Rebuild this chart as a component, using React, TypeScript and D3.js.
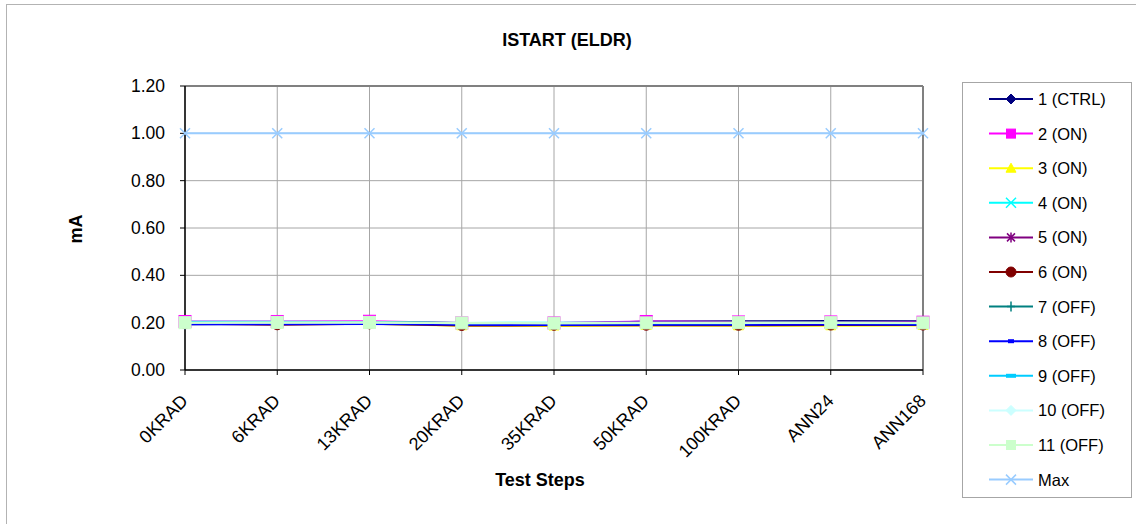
import React from "react";
import * as d3 from "d3";

const categories = ["0KRAD", "6KRAD", "13KRAD", "20KRAD", "35KRAD", "50KRAD", "100KRAD", "ANN24", "ANN168"];
const yTicks = [0, 0.2, 0.4, 0.6, 0.8, 1.0, 1.2];

const seriesNames = ["1 (CTRL)", "2 (ON)", "3 (ON)", "4 (ON)", "5 (ON)", "6 (ON)", "7 (OFF)", "8 (OFF)", "9 (OFF)", "10 (OFF)", "11 (OFF)", "Max"];
const seriesColors = ["#000080", "#FF00FF", "#FFFF00", "#00FFFF", "#800080", "#800000", "#008080", "#0000FF", "#00CCFF", "#CCFFFF", "#CCFFCC", "#99CCFF"];
const seriesMarkers = ["diamond", "square", "triangle", "x", "star", "circle", "plus", "dash", "longdash", "diamond", "square", "x"];

const s1 = [0.193, 0.195, 0.196, 0.192, 0.193, 0.205, 0.206, 0.207, 0.206];
const s2 = [0.205, 0.205, 0.206, 0.199, 0.199, 0.205, 0.203, 0.203, 0.202];
const s3 = [0.196, 0.194, 0.195, 0.187, 0.186, 0.188, 0.187, 0.187, 0.188];
const s4 = [0.204, 0.204, 0.203, 0.199, 0.2, 0.2, 0.199, 0.2, 0.199];
const s5 = [0.199, 0.201, 0.202, 0.197, 0.197, 0.198, 0.198, 0.199, 0.198];
const s6 = [0.196, 0.191, 0.195, 0.188, 0.189, 0.189, 0.189, 0.19, 0.19];
const s7 = [0.202, 0.203, 0.203, 0.199, 0.199, 0.2, 0.201, 0.201, 0.2];
const s8 = [0.193, 0.193, 0.194, 0.191, 0.19, 0.191, 0.191, 0.192, 0.191];
const s9 = [0.203, 0.203, 0.202, 0.198, 0.199, 0.198, 0.198, 0.199, 0.198];
const s10 = [0.2, 0.2, 0.201, 0.198, 0.198, 0.199, 0.199, 0.199, 0.199];
const s11 = [0.2, 0.201, 0.201, 0.199, 0.198, 0.199, 0.2, 0.2, 0.199];
const sMax = [1.0, 1.0, 1.0, 1.0, 1.0, 1.0, 1.0, 1.0, 1.0];
const seriesValues = [s1, s2, s3, s4, s5, s6, s7, s8, s9, s10, s11, sMax];

const W = 1136, H = 524;
const plot = { left: 185, right: 923, top: 86, bottom: 370 };

function Marker({ type, x, y, color, sq = 12 }: { type: string; x: number; y: number; color: string; sq?: number }) {
  const t = `translate(${x},${y})`;
  switch (type) {
    case "diamond":
      return <path transform={t} d="M0,-5L5,0L0,5L-5,0Z" fill={color} stroke={color} strokeWidth={1} />;
    case "square":
      return <rect x={x - sq / 2} y={y - sq / 2} width={sq} height={sq} fill={color} stroke={color} strokeWidth={1} />;
    case "triangle":
      return <path transform={t} d="M0,-5L5,4L-5,4Z" fill={color} stroke={color} strokeWidth={1} />;
    case "circle":
      return <circle cx={x} cy={y} r={5} fill={color} stroke={color} />;
    case "x":
      return <path transform={t} d="M-5,-5L5,5M-5,5L5,-5" stroke={color} strokeWidth={1.5} fill="none" />;
    case "star":
      return <path transform={t} d="M-4,-4L4,4M-4,4L4,-4M0,-5L0,5" stroke={color} strokeWidth={1.5} fill="none" />;
    case "plus":
      return <path transform={t} d="M0,-5L0,5M-4,0L4,0" stroke={color} strokeWidth={1.5} fill="none" />;
    case "dash":
      return <rect x={x - 3} y={y - 2} width={6} height={4} fill={color} />;
    case "longdash":
      return <rect x={x - 5} y={y - 2} width={10} height={4} fill={color} />;
    default:
      return null;
  }
}

export default function App() {
  const x = d3.scalePoint<string>().domain(categories).range([plot.left, plot.right]);
  const y = d3.scaleLinear().domain([0, 1.2]).range([plot.bottom, plot.top]);
  const line = d3
    .line<number>()
    .x((_, i) => x(categories[i]) as number)
    .y((d) => y(d));

  const font = "Arial, 'Liberation Sans', Helvetica, sans-serif";
  const legendX = 962, legendY = 82, legendW = 169, legendH = 415;
  const rowY = (i: number) => 99 + i * 34.6;

  return (
    <svg width={W} height={H} style={{ position: "absolute", left: 0, top: 0 }} fontFamily={font}>
      <rect x={0} y={0} width={W} height={H} fill="#fff" />
      <rect x={6.5} y={4.5} width={1140} height={540} fill="#fff" stroke="#b3b3b3" strokeWidth={1} />
      <text x={567} y={46} textAnchor="middle" fontWeight="bold" fontSize={18}>ISTART (ELDR)</text>

      {/* gridlines */}
      {yTicks.map((t) => (
        <line key={"gy" + t} x1={plot.left} x2={plot.right} y1={y(t)} y2={y(t)} stroke="#a6a6a6" strokeWidth={1} />
      ))}
      {categories.map((c) => (
        <line key={"gx" + c} x1={x(c)} x2={x(c)} y1={plot.top} y2={plot.bottom} stroke="#a6a6a6" strokeWidth={1} />
      ))}
      {/* plot border */}
      <line x1={plot.left} x2={plot.right} y1={plot.top} y2={plot.top} stroke="#808080" strokeWidth={2} />
      <line x1={plot.right} x2={plot.right} y1={plot.top} y2={plot.bottom} stroke="#808080" strokeWidth={2} />
      {/* axes */}
      <line x1={plot.left} x2={plot.left} y1={plot.top} y2={plot.bottom} stroke="#000" strokeWidth={1.5} />
      <line x1={plot.left} x2={plot.right} y1={plot.bottom} y2={plot.bottom} stroke="#000" strokeWidth={1.5} />
      {yTicks.map((t) => (
        <g key={"yt" + t}>
          <line x1={plot.left - 5} x2={plot.left} y1={y(t)} y2={y(t)} stroke="#000" />
          <text x={165} y={y(t) + 6} textAnchor="end" fontSize={17.5}>{t.toFixed(2)}</text>
        </g>
      ))}
      {categories.map((c) => (
        <g key={"xt" + c}>
          <line x1={x(c)} x2={x(c)} y1={plot.bottom} y2={plot.bottom + 5} stroke="#000" />
          <text transform={`translate(${(x(c) as number) + 4},${plot.bottom + 32}) rotate(-45)`} textAnchor="end" fontSize={18}>{c}</text>
        </g>
      ))}
      <text transform="translate(82,229) rotate(-90)" textAnchor="middle" fontWeight="bold" fontSize={18}>mA</text>
      <text x={540} y={486} textAnchor="middle" fontWeight="bold" fontSize={18}>Test Steps</text>

      {/* series */}
      {seriesValues.map((vals, si) => (
        <g key={"s" + si}>
          <path d={line(vals) || ""} fill="none" stroke={seriesColors[si]} strokeWidth={2} />
          {vals.map((v, i) => (
            <Marker key={i} type={seriesMarkers[si]} x={x(categories[i]) as number} y={y(v)} color={seriesColors[si]} />
          ))}
        </g>
      ))}

      {/* legend */}
      <rect x={legendX + 0.5} y={legendY + 0.5} width={legendW} height={legendH} fill="#fff" stroke="#a6a6a6" />
      {seriesNames.map((n, i) => (
        <g key={"lg" + i}>
          <line x1={989} x2={1033} y1={rowY(i)} y2={rowY(i)} stroke={seriesColors[i]} strokeWidth={2} />
          <Marker type={seriesMarkers[i]} x={1011} y={rowY(i)} color={seriesColors[i]} sq={9} />
          <text x={1038} y={rowY(i) + 6} fontSize={16.5}>{n}</text>
        </g>
      ))}
    </svg>
  );
}
